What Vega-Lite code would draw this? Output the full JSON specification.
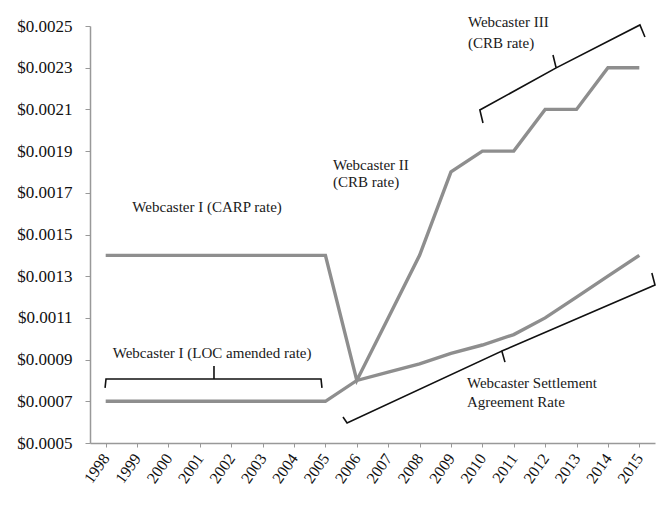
{
  "$schema": "https://vega.github.io/schema/vega-lite/v6.json",
  "width": 565,
  "height": 417,
  "autosize": {"type": "none"},
  "padding": {"left": 90, "top": 26, "right": 15, "bottom": 62},
  "background": "white",
  "config": {
    "view": {"stroke": null},
    "font": "Liberation Serif",
    "axis": {"labelOverlap": false, "labelSeparation": 0}
  },
  "datasets": {
    "rates": [
      {"year": 1998, "series": "upper", "rate": 0.0014},
      {"year": 1999, "series": "upper", "rate": 0.0014},
      {"year": 2000, "series": "upper", "rate": 0.0014},
      {"year": 2001, "series": "upper", "rate": 0.0014},
      {"year": 2002, "series": "upper", "rate": 0.0014},
      {"year": 2003, "series": "upper", "rate": 0.0014},
      {"year": 2004, "series": "upper", "rate": 0.0014},
      {"year": 2005, "series": "upper", "rate": 0.0014},
      {"year": 2006, "series": "upper", "rate": 0.0008},
      {"year": 2007, "series": "upper", "rate": 0.0011},
      {"year": 2008, "series": "upper", "rate": 0.0014},
      {"year": 2009, "series": "upper", "rate": 0.0018},
      {"year": 2010, "series": "upper", "rate": 0.0019},
      {"year": 2011, "series": "upper", "rate": 0.0019},
      {"year": 2012, "series": "upper", "rate": 0.0021},
      {"year": 2013, "series": "upper", "rate": 0.0021},
      {"year": 2014, "series": "upper", "rate": 0.0023},
      {"year": 2015, "series": "upper", "rate": 0.0023},
      {"year": 1998, "series": "lower", "rate": 0.0007},
      {"year": 1999, "series": "lower", "rate": 0.0007},
      {"year": 2000, "series": "lower", "rate": 0.0007},
      {"year": 2001, "series": "lower", "rate": 0.0007},
      {"year": 2002, "series": "lower", "rate": 0.0007},
      {"year": 2003, "series": "lower", "rate": 0.0007},
      {"year": 2004, "series": "lower", "rate": 0.0007},
      {"year": 2005, "series": "lower", "rate": 0.0007},
      {"year": 2006, "series": "lower", "rate": 0.0008},
      {"year": 2007, "series": "lower", "rate": 0.00084},
      {"year": 2008, "series": "lower", "rate": 0.00088},
      {"year": 2009, "series": "lower", "rate": 0.00093},
      {"year": 2010, "series": "lower", "rate": 0.00097},
      {"year": 2011, "series": "lower", "rate": 0.00102},
      {"year": 2012, "series": "lower", "rate": 0.0011},
      {"year": 2013, "series": "lower", "rate": 0.0012},
      {"year": 2014, "series": "lower", "rate": 0.0013},
      {"year": 2015, "series": "lower", "rate": 0.0014}
    ],
    "brackets": [
      {"series": "LOC", "i": 1, "year": 1997.98, "rate": 0.000764},
      {"series": "LOC", "i": 2, "year": 1998.01, "rate": 0.000807},
      {"series": "LOC", "i": 3, "year": 2001.45, "rate": 0.000807},
      {"series": "LOC", "i": 4, "year": 2001.45, "rate": 0.000869},
      {"series": "LOC", "i": 5, "year": 2001.45, "rate": 0.000807},
      {"series": "LOC", "i": 6, "year": 2004.86, "rate": 0.000807},
      {"series": "LOC", "i": 7, "year": 2004.89, "rate": 0.000764},
      {"series": "WSA", "i": 1, "year": 2005.56, "rate": 0.000625},
      {"series": "WSA", "i": 2, "year": 2005.69, "rate": 0.000596},
      {"series": "WSA", "i": 3, "year": 2010.62, "rate": 0.000941},
      {"series": "WSA", "i": 4, "year": 2010.72, "rate": 0.000888},
      {"series": "WSA", "i": 5, "year": 2010.62, "rate": 0.000941},
      {"series": "WSA", "i": 6, "year": 2015.5, "rate": 0.001258},
      {"series": "WSA", "i": 7, "year": 2015.4, "rate": 0.001315},
      {"series": "III", "i": 1, "year": 2010.02, "rate": 0.002035},
      {"series": "III", "i": 2, "year": 2009.92, "rate": 0.002097},
      {"series": "III", "i": 3, "year": 2012.35, "rate": 0.002299},
      {"series": "III", "i": 4, "year": 2012.25, "rate": 0.002361},
      {"series": "III", "i": 5, "year": 2012.35, "rate": 0.002299},
      {"series": "III", "i": 6, "year": 2015.02, "rate": 0.002505},
      {"series": "III", "i": 7, "year": 2015.18, "rate": 0.002447}
    ],
    "labelsCenter": [
      {"text": "Webcaster I (LOC amended rate)", "year": 2001.39, "rate": 0.000932},
      {"text": "Webcaster I (CARP rate)", "year": 2001.23, "rate": 0.001632}
    ],
    "labelsLeft": [
      {"text": "Webcaster II", "year": 2005.24, "rate": 0.001833},
      {"text": "(CRB rate)", "year": 2005.24, "rate": 0.001752},
      {"text": "Webcaster III", "year": 2009.54, "rate": 0.002519},
      {"text": "(CRB rate)", "year": 2009.54, "rate": 0.002418},
      {"text": "Webcaster Settlement", "year": 2009.51, "rate": 0.000788},
      {"text": "Agreement Rate", "year": 2009.51, "rate": 0.000697}
    ]
  },
  "encoding": {
    "x": {
      "field": "year", "type": "quantitative",
      "scale": {"domain": [1997.5, 2015.5], "nice": false, "zero": false},
      "axis": {
        "title": null,
        "values": [1998, 1999, 2000, 2001, 2002, 2003, 2004, 2005, 2006, 2007, 2008, 2009, 2010, 2011, 2012, 2013, 2014, 2015],
        "format": "d",
        "labelAngle": -55,
        "labelAlign": "right",
        "labelBaseline": "middle",
        "labelPadding": 8,
        "labelFont": "Liberation Serif",
        "labelFontSize": 16,
        "labelColor": "#111",
        "domainColor": "#999",
        "domainWidth": 1.5,
        "tickColor": "#999",
        "tickSize": 4,
        "grid": false,
        "labelOverlap": false,
        "labelSeparation": 0,
        "labelFlush": false,
        "labelBound": false
      }
    },
    "y": {
      "field": "rate", "type": "quantitative",
      "scale": {"domain": [0.0005, 0.0025], "nice": false, "zero": false},
      "axis": {
        "title": null,
        "values": [0.0005, 0.0007, 0.0009, 0.0011, 0.0013, 0.0015, 0.0017, 0.0019, 0.0021, 0.0023, 0.0025],
        "format": "$.4f",
        "labelFont": "Liberation Serif",
        "labelFontSize": 17,
        "labelColor": "#111",
        "labelPadding": 13,
        "domainColor": "#999",
        "domainWidth": 1.5,
        "tickColor": "#999",
        "tickSize": 5,
        "grid": false
      }
    }
  },
  "layer": [
    {
      "data": {"name": "rates"},
      "mark": {"type": "line", "color": "#8e8e8e", "strokeWidth": 3.4, "clip": false},
      "encoding": {
        "detail": {"field": "series"}
      }
    },
    {
      "data": {"name": "brackets"},
      "mark": {"type": "line", "color": "#111", "strokeWidth": 1.6, "clip": false},
      "encoding": {
        "detail": {"field": "series"},
        "order": {"field": "i"}
      }
    },
    {
      "data": {"name": "labelsCenter"},
      "mark": {"type": "text", "font": "Liberation Serif", "fontSize": 15, "color": "#1a1a1a", "baseline": "middle", "align": "center"},
      "encoding": {
        "text": {"field": "text"}
      }
    },
    {
      "data": {"name": "labelsLeft"},
      "mark": {"type": "text", "font": "Liberation Serif", "fontSize": 15, "color": "#1a1a1a", "baseline": "middle", "align": "left"},
      "encoding": {
        "text": {"field": "text"}
      }
    }
  ]
}
